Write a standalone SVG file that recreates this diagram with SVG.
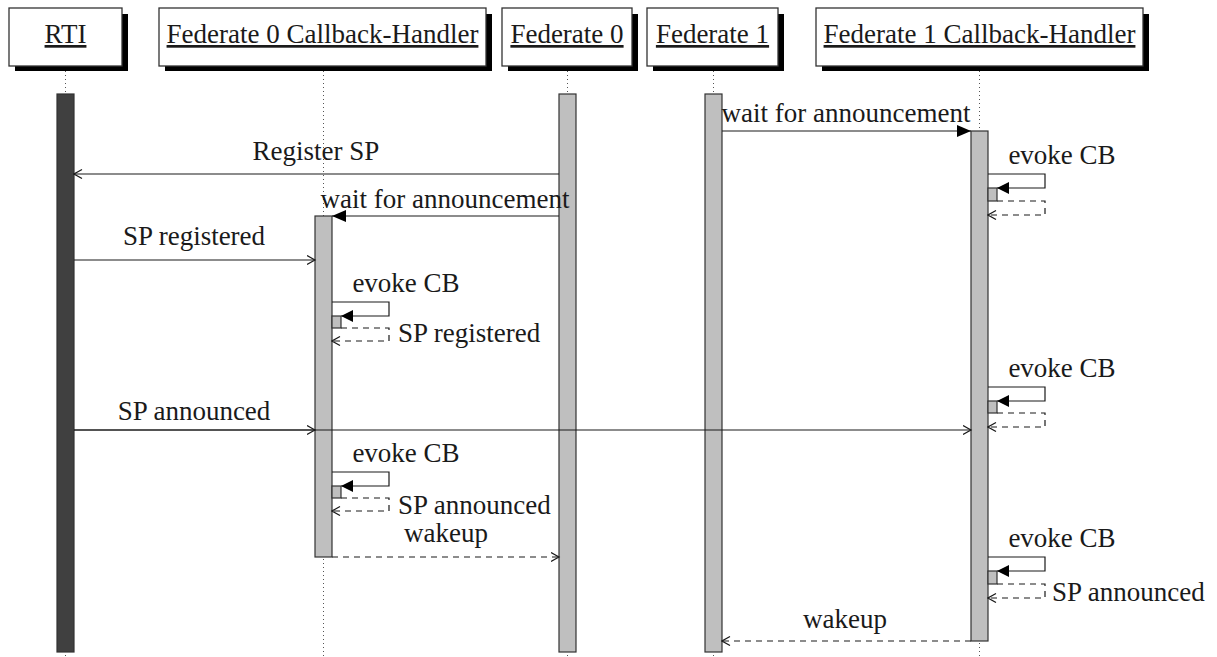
<svg xmlns="http://www.w3.org/2000/svg" width="1217" height="657" viewBox="0 0 1217 657" font-family="'Liberation Serif', 'DejaVu Serif', serif">
  <style>
    text { font-family: 'Liberation Serif', 'DejaVu Serif', serif; font-size: 27px; fill: #1a1a1a; }
    .hdr { text-anchor: middle; text-decoration: underline; }
    .mid { text-anchor: middle; }
    .box { fill: #ffffff; stroke: #333333; stroke-width: 1.3; }
    .shadow { fill: #000000; }
    .life { stroke: #555555; stroke-width: 1; stroke-dasharray: 1 3; fill: none; }
    .bar { fill: #bfbfbf; stroke: #333333; stroke-width: 1.2; }
    .bar.dark { fill: #404040; }
    .msg { stroke: #1a1a1a; stroke-width: 1.2; fill: none; }
    .dash { stroke-dasharray: 6 5; }
    .sync { marker-end: url(#solidHead); }
    .async { marker-end: url(#openHead); }
    .self { marker-end: url(#selfHead); }
  </style>
  <defs>
    <marker id="solidHead" markerUnits="userSpaceOnUse" markerWidth="14" markerHeight="12" refX="14" refY="6" orient="auto">
      <path d="M0,0 L14,6 L0,12 z" fill="#000000"/>
    </marker>
    <marker id="selfHead" markerUnits="userSpaceOnUse" markerWidth="12" markerHeight="12" refX="12" refY="6" orient="auto">
      <path d="M0,0 L12,6 L0,12 z" fill="#000000"/>
    </marker>
    <marker id="openHead" markerUnits="userSpaceOnUse" markerWidth="10" markerHeight="11" refX="8.5" refY="5" orient="auto">
      <path d="M0.5,0.5 L8.5,5 L0.5,9.5" fill="none" stroke="#1a1a1a" stroke-width="1.2"/>
    </marker>
  </defs>

  <rect width="1217" height="657" fill="#ffffff"/>

  <!-- lifelines -->
  <g id="lifelines">
    <line class="life" x1="65.5" y1="71" x2="65.5" y2="657"/>
    <line class="life" x1="323.5" y1="71" x2="323.5" y2="657"/>
    <line class="life" x1="567.5" y1="71" x2="567.5" y2="657"/>
    <line class="life" x1="713.5" y1="71" x2="713.5" y2="657"/>
    <line class="life" x1="979.5" y1="71" x2="979.5" y2="657"/>
  </g>

  <!-- participants -->
  <g id="rti">
    <rect class="shadow" x="15" y="14" width="113" height="57"/>
    <rect class="box" x="9" y="8" width="113" height="58"/>
    <text class="hdr" x="65.5" y="43">RTI</text>
    <rect class="bar dark" x="57" y="94" width="17" height="558"/>
  </g>
  <g id="fed0-cb">
    <rect class="shadow" x="165" y="14" width="327" height="57"/>
    <rect class="box" x="159" y="8" width="327" height="58"/>
    <text class="hdr" x="322.5" y="43">Federate 0 Callback-Handler</text>
    <rect class="bar" x="315" y="216" width="17" height="341"/>
  </g>
  <g id="fed0">
    <rect class="shadow" x="508" y="14" width="130" height="57"/>
    <rect class="box" x="502" y="8" width="130" height="58"/>
    <text class="hdr" x="567" y="43">Federate 0</text>
    <rect class="bar" x="559" y="94" width="17" height="558"/>
  </g>
  <g id="fed1">
    <rect class="shadow" x="653" y="14" width="131" height="57"/>
    <rect class="box" x="647" y="8" width="131" height="58"/>
    <text class="hdr" x="712.5" y="43">Federate 1</text>
    <rect class="bar" x="705" y="94" width="17" height="558"/>
  </g>
  <g id="fed1-cb">
    <rect class="shadow" x="822" y="14" width="327" height="57"/>
    <rect class="box" x="816" y="8" width="327" height="58"/>
    <text class="hdr" x="979.5" y="43">Federate 1 Callback-Handler</text>
    <rect class="bar" x="971" y="131" width="17" height="510"/>
  </g>

  <!-- messages -->
  <g id="connectors">
    <line class="msg sync" x1="722" y1="131" x2="971" y2="131"/>
    <text class="mid" x="846" y="122">wait for announcement</text>

    <line class="msg async" x1="559" y1="174" x2="74" y2="174"/>
    <text class="mid" x="316" y="160">Register SP</text>

    <line class="msg sync" x1="559" y1="216" x2="332" y2="216"/>
    <text class="mid" x="445" y="208">wait for announcement</text>

    <line class="msg async" x1="74" y1="260" x2="315" y2="260"/>
    <text class="mid" x="194" y="245">SP registered</text>

    <line class="msg async" x1="74" y1="430" x2="315" y2="430"/>
    <line class="msg async" x1="74" y1="430" x2="971" y2="430"/>
    <text class="mid" x="194" y="420">SP announced</text>

    <line class="msg dash async" x1="332" y1="557" x2="559" y2="557"/>
    <text class="mid" x="446" y="542">wakeup</text>

    <line class="msg dash async" x1="971" y1="641" x2="722" y2="641"/>
    <text class="mid" x="845" y="628">wakeup</text>

    <!-- self calls on Federate 0 Callback-Handler -->
    <path class="msg self" d="M332,302 H389 V316 H341"/>
    <rect class="bar" x="332" y="316" width="9" height="12"/>
    <path class="msg dash async" d="M341,328 H389 V341 H332"/>
    <text class="mid" x="406" y="292">evoke CB</text>
    <text x="398" y="342">SP registered</text>

    <path class="msg self" d="M332,472 H389 V486 H341"/>
    <rect class="bar" x="332" y="486" width="9" height="12"/>
    <path class="msg dash async" d="M341,498 H389 V511 H332"/>
    <text class="mid" x="406" y="462">evoke CB</text>
    <text x="398" y="514">SP announced</text>

    <!-- self calls on Federate 1 Callback-Handler -->
    <path class="msg self" d="M988,174 H1045 V188 H997"/>
    <rect class="bar" x="988" y="188" width="9" height="13"/>
    <path class="msg dash async" d="M997,201 H1045 V215 H988"/>
    <text class="mid" x="1062" y="164">evoke CB</text>

    <path class="msg self" d="M988,387 H1045 V401 H997"/>
    <rect class="bar" x="988" y="401" width="9" height="12"/>
    <path class="msg dash async" d="M997,413 H1045 V427 H988"/>
    <text class="mid" x="1062" y="377">evoke CB</text>

    <path class="msg self" d="M988,557 H1045 V571 H997"/>
    <rect class="bar" x="988" y="571" width="9" height="13"/>
    <path class="msg dash async" d="M997,584 H1045 V598 H988"/>
    <text class="mid" x="1062" y="547">evoke CB</text>
    <text x="1052" y="601">SP announced</text>
  </g>
</svg>
